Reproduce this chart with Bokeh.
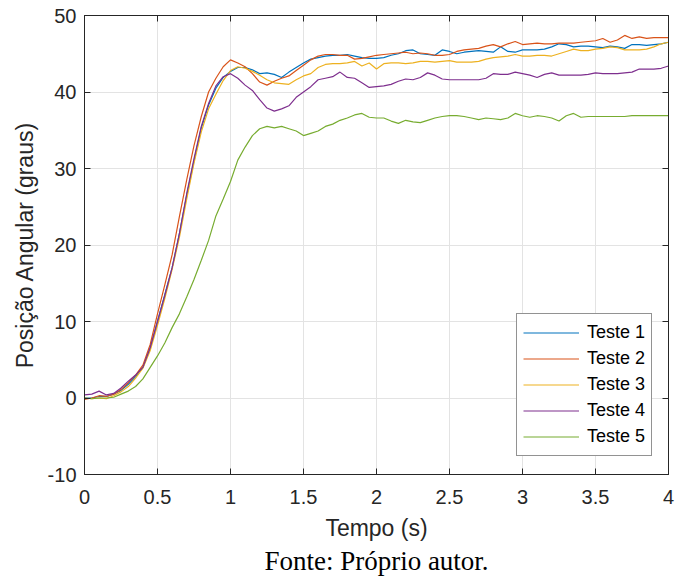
from bokeh.plotting import figure
from bokeh.models import LinearAxis, Title, Range1d, FixedTicker
from bokeh.embed import file_html
from bokeh.resources import INLINE

# time axis (s), step 0.05
t = [round(i * 0.05, 2) for i in range(81)]

teste1 = [0.0, 0.0, 0.2, 0.2, 0.5, 1.0, 1.8, 2.8, 4.0, 6.5,
          10.0, 13.5, 17.0, 21.5, 26.5, 31.0, 35.3, 38.3, 40.5, 41.9,
          42.7, 43.2, 43.2, 42.9, 42.4, 42.5, 42.3, 41.9, 42.6, 43.2,
          43.8, 44.3, 44.5, 44.7, 44.8, 44.8, 44.9, 44.7, 44.5, 44.4,
          44.4, 44.5, 44.8, 45.0, 45.4, 45.5, 45.0, 44.9, 44.8, 45.5,
          45.3, 45.0, 45.2, 45.3, 45.4, 45.3, 45.2, 45.9, 45.3, 45.2,
          45.5, 45.5, 45.5, 45.6, 45.9, 46.3, 46.2, 45.9, 46.0, 46.0,
          45.9, 45.8, 46.0, 45.9, 45.7, 46.2, 46.2, 46.1, 46.2, 46.3,
          46.5]
teste2 = [-0.2, 0.0, 0.3, 0.2, 0.5, 1.1, 2.0, 3.0, 4.3, 7.0,
          11.0, 14.8, 18.7, 23.7, 28.5, 33.0, 36.8, 40.0, 41.8, 43.3,
          44.2, 43.8, 43.3, 42.4, 41.3, 40.9, 41.4, 41.8, 42.1, 42.8,
          43.5, 44.2, 44.7, 44.9, 44.9, 44.8, 44.8, 44.3, 44.4, 44.6,
          44.8, 44.9, 45.0, 45.1, 45.2, 45.0, 45.1, 45.0, 44.8, 44.8,
          44.9, 45.3, 45.5, 45.6, 45.7, 46.0, 46.2, 45.9, 46.3, 46.6,
          46.2, 46.3, 46.4, 46.3, 46.3, 46.4, 46.4, 46.4, 46.5, 46.6,
          46.7, 47.0, 46.5, 46.8, 47.4, 47.0, 47.2, 47.0, 47.1, 47.1,
          47.1]
teste3 = [0.0, -0.1, 0.0, -0.1, 0.3, 0.8, 1.5, 2.6, 3.9, 6.2,
          9.5, 13.0, 16.8, 21.0, 26.0, 30.7, 34.8, 37.8, 39.7, 41.5,
          42.8, 43.3, 43.1, 42.7, 42.2, 41.6, 41.2, 41.1, 41.0, 41.6,
          42.1, 42.4, 43.2, 43.6, 43.7, 43.7, 43.8, 44.0, 43.4, 43.8,
          43.0, 43.7, 43.8, 43.8, 43.7, 43.8, 44.0, 44.0, 43.9, 44.0,
          44.1, 43.9, 43.9, 43.9, 44.0, 44.3, 44.5, 44.6, 44.7, 44.9,
          44.7, 44.7, 44.8, 44.8, 44.7, 45.0, 45.3, 45.6, 45.4, 45.4,
          45.6, 45.7, 45.9, 45.8, 45.5, 45.5, 45.5, 45.6, 45.9, 46.3,
          46.5]
teste4 = [0.4, 0.5, 0.9, 0.4, 0.6, 1.3, 2.2, 3.0, 4.0, 6.6,
          10.0, 13.4, 17.0, 21.5, 26.7, 31.3, 35.5, 38.5, 40.8, 42.0,
          42.4, 41.8, 40.9, 40.2, 39.0, 37.9, 37.5, 37.8, 38.2, 39.3,
          40.0, 40.7, 41.6, 41.8, 42.0, 42.6, 41.9, 41.8, 41.2, 40.6,
          40.7, 40.8, 41.0, 41.4, 41.7, 41.6, 41.9, 42.5, 42.2, 41.7,
          41.6, 41.6, 41.6, 41.6, 41.6, 41.8, 42.4, 42.3, 42.3, 42.6,
          42.4, 42.2, 41.9, 42.3, 42.5, 42.2, 42.2, 42.2, 42.2, 42.3,
          42.5, 42.4, 42.4, 42.4, 42.5, 42.6, 43.0, 43.0, 43.0, 43.1,
          43.4]
teste5 = [0.0, -0.1, 0.0, 0.0, 0.1, 0.5, 0.9, 1.5, 2.5, 4.0,
          5.5, 7.2, 9.2, 11.0, 13.2, 15.5, 18.0, 20.6, 23.8, 26.0,
          28.3, 31.1, 32.8, 34.3, 35.2, 35.5, 35.3, 35.5, 35.2, 34.9,
          34.3, 34.6, 34.9, 35.5, 35.8, 36.3, 36.6, 37.0, 37.2, 36.7,
          36.6, 36.6, 36.2, 35.9, 36.3, 36.1, 36.0, 36.3, 36.6, 36.8,
          36.9, 36.9, 36.8, 36.6, 36.4, 36.6, 36.5, 36.4, 36.6, 37.2,
          36.9, 36.7, 36.9, 36.8, 36.6, 36.2, 36.9, 37.2, 36.7, 36.8,
          36.8, 36.8, 36.8, 36.8, 36.8, 36.9, 36.9, 36.9, 36.9, 36.9,
          36.9]

series = [("Teste 1", teste1, "#0072BD"),
          ("Teste 2", teste2, "#D95319"),
          ("Teste 3", teste3, "#EDB120"),
          ("Teste 4", teste4, "#7E2F8E"),
          ("Teste 5", teste5, "#77AC30")]

x_ticks = [0, 0.5, 1, 1.5, 2, 2.5, 3, 3.5, 4]
y_ticks = [-10, 0, 10, 20, 30, 40, 50]
x_tick_labels = ["0", "0.5", "1", "1.5", "2", "2.5", "3", "3.5", "4"]
y_tick_labels = ["-10", "0", "10", "20", "30", "40", "50"]

FONT = "Liberation Sans"
DARK = "#262626"

p = figure(width=681, height=577, output_backend="svg", toolbar_location=None,
           x_range=Range1d(0, 4), y_range=Range1d(-10, 50),
           min_border_left=84, min_border_right=13, min_border_top=15,
           min_border_bottom=103, background_fill_color="white",
           border_fill_color="white")

for name, ys, col in series:
    p.line(t, ys, line_color=col, line_width=1.2, legend_label=name)

for ax in (p.xaxis[0], p.yaxis[0]):
    ax.major_tick_in = 6
    ax.major_tick_out = 0
    ax.minor_tick_in = 0
    ax.minor_tick_out = 0
    ax.axis_line_color = DARK
    ax.major_tick_line_color = DARK
    ax.major_label_text_color = DARK
    ax.major_label_text_font = FONT
    ax.major_label_text_font_size = "20px"
    ax.axis_label_text_font = FONT
    ax.axis_label_text_font_size = "23px"
    ax.axis_label_text_font_style = "normal"
    ax.axis_label_text_color = DARK

p.xaxis[0].ticker = FixedTicker(ticks=x_ticks)
p.yaxis[0].ticker = FixedTicker(ticks=y_ticks)
p.xaxis[0].major_label_overrides = dict(zip(x_ticks, x_tick_labels))
p.yaxis[0].major_label_overrides = dict(zip(y_ticks, y_tick_labels))
p.xaxis[0].axis_label = "Tempo (s)"
p.yaxis[0].axis_label = "Posição Angular (graus)"
p.xaxis[0].major_label_standoff = 15
p.xaxis[0].axis_label_standoff = 8
p.yaxis[0].major_label_standoff = 8
p.yaxis[0].axis_label_standoff = 7

# box axes (top / right) with inward ticks, no labels
top = LinearAxis(ticker=FixedTicker(ticks=x_ticks),
                 major_label_overrides={v: "" for v in x_ticks},
                 major_label_text_font_size="1px",
                 major_tick_in=6, major_tick_out=0, minor_tick_in=0, minor_tick_out=0,
                 axis_line_color=DARK, major_tick_line_color=DARK, major_label_standoff=0)
right = LinearAxis(ticker=FixedTicker(ticks=y_ticks),
                   major_label_overrides={v: "" for v in y_ticks},
                   major_label_text_font_size="1px",
                   major_tick_in=6, major_tick_out=0, minor_tick_in=0, minor_tick_out=0,
                   axis_line_color=DARK, major_tick_line_color=DARK, major_label_standoff=0)
p.add_layout(top, "above")
p.add_layout(right, "right")

p.xgrid.grid_line_color = "#e3e3e3"
p.ygrid.grid_line_color = "#e3e3e3"
p.xgrid.ticker = FixedTicker(ticks=x_ticks)
p.ygrid.ticker = FixedTicker(ticks=y_ticks)
p.outline_line_color = DARK

p.add_layout(Title(text="Fonte: Próprio autor.", align="center",
                   text_font="Liberation Serif", text_font_size="27px",
                   text_font_style="normal", text_color="black",
                   standoff=1, offset=0), "below")

leg = p.legend[0]
leg.location = (432, 18)
leg.label_text_font = FONT
leg.label_text_font_size = "18px"
leg.label_text_color = "black"
leg.glyph_width = 56
leg.glyph_height = 25
leg.label_height = 25
leg.spacing = 1
leg.padding = 6
leg.margin = 0
leg.label_standoff = 8
leg.border_line_color = DARK
leg.border_line_width = 1
leg.background_fill_alpha = 1

open("out.html", "w").write(file_html(p, INLINE))
